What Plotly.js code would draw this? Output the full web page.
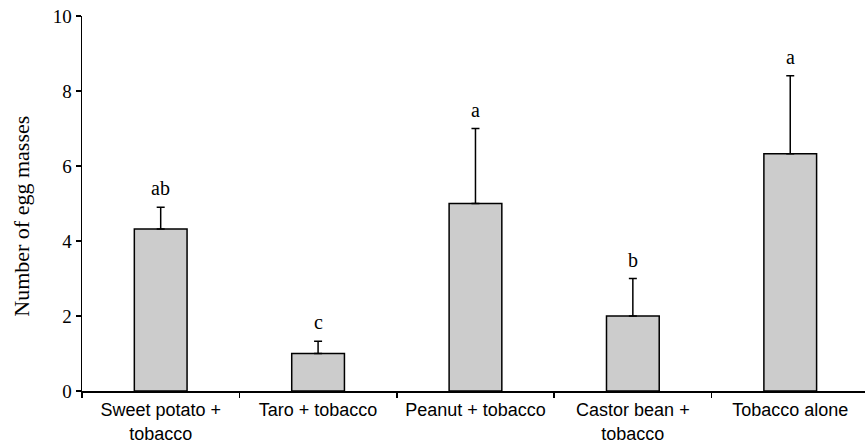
<!DOCTYPE html>
<html>
<head>
<meta charset="utf-8">
<script src="https://cdn.plot.ly/plotly-3.0.1.min.js"></script>
<style>html,body{margin:0;padding:0;background:#fff;}#chart{width:865px;height:445px;}</style>
</head>
<body>
<div id="chart"></div>
<script>
const categories = ["Sweet potato +<br>tobacco", "Taro + tobacco", "Peanut + tobacco", "Castor bean +<br>tobacco", "Tobacco alone"];
const means = [4.32, 1.0, 5.0, 2.0, 6.33];
const errors = [0.58, 0.33, 2.0, 1.0, 2.08];
const letters = ["ab", "c", "a", "b", "a"];
const yTicks = [0, 2, 4, 6, 8, 10];
const yTitle = "Number of egg masses";

const serif = "Liberation Serif, Times New Roman, serif";
const sans = "Liberation Sans, Arial, sans-serif";

const trace = {
  type: "bar",
  x: categories,
  y: means,
  width: 0.335,
  marker: {color: "#cccccc", line: {color: "#000", width: 1.5}},
  error_y: {type: "data", symmetric: false, array: errors, arrayminus: means.map(() => 0), color: "#000", thickness: 1.5, width: 4},
  hoverinfo: "none"
};

const annotations = categories.map((c, i) => ({
  x: c, y: means[i] + errors[i], xref: "x", yref: "y",
  text: letters[i], showarrow: false, yanchor: "bottom", yshift: 6,
  font: {family: serif, size: 20, color: "#000"}
}));
annotations.push({
  xref: "paper", yref: "paper", x: -0.0765, y: 0.465,
  xanchor: "center", yanchor: "middle", textangle: -90, showarrow: false,
  text: yTitle, font: {family: serif, size: 22, color: "#000"}
});

const layout = {
  width: 865, height: 445,
  margin: {l: 82, r: 0, t: 16, b: 54},
  paper_bgcolor: "#fff", plot_bgcolor: "#fff",
  showlegend: false,
  xaxis: {
    type: "category", range: [-0.5, 4.475], tickangle: 0,
    showline: true, linecolor: "#000", linewidth: 1.5,
    ticks: "outside", tickson: "boundaries", ticklen: 5, tickwidth: 1.5, tickcolor: "#000",
    showgrid: false, zeroline: false, ticklabelstandoff: 2,
    tickfont: {family: sans, size: 18, color: "#000"}
  },
  yaxis: {
    range: [0, 10], tickvals: yTicks, ticktext: yTicks.map(String),
    showline: true, linecolor: "#000", linewidth: 1.5,
    ticks: "outside", ticklen: 5, tickwidth: 1.5, tickcolor: "#000",
    showgrid: false, zeroline: false,
    tickfont: {family: serif, size: 19, color: "#000"}
  },
  annotations: annotations
};

Plotly.newPlot("chart", [trace], layout, {displayModeBar: false, staticPlot: true});
</script>
</body>
</html>
